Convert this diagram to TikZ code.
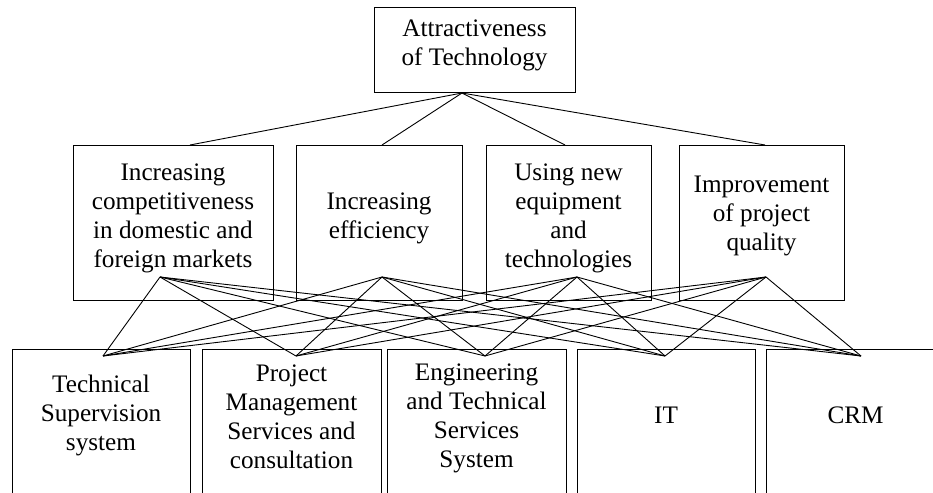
\documentclass[tikz,border=0pt]{standalone}
\usepackage{fontspec}
\setmainfont{Liberation Serif}
\usetikzlibrary{positioning}

\begin{document}
\begin{tikzpicture}[x=1pt, y=-1pt]
    \tikzstyle{gnode} = [draw=black, line width=1pt, rectangle, inner sep=0pt, align=center]
    \tikzstyle{tnode} = [inner sep=0pt, align=center, font=\fontsize{25.2}{29}\selectfont]
    \tikzstyle{abox} = [draw=black, line width=1pt, rectangle, inner sep=0pt, anchor=north, minimum height=170pt]
    \tikzstyle{wire} = [line width=0.9pt]
    \useasboundingbox (0,0) rectangle (933,492);
    \clip (0,0) rectangle (933,492);

    % goal
    \node[gnode, minimum width=201pt, minimum height=85pt] (goal) at (474.5,50.5) {};
    \node[tnode] (goalt) at (474.5,45) {Attractiveness\\of Technology};

    % criteria
    \node[gnode, minimum width=200pt, minimum height=155pt] (c1) at (173,222.5) {};
    \node[gnode, minimum width=166pt, minimum height=155pt] (c2) at (379,222.5) {};
    \node[gnode, minimum width=165pt, minimum height=155pt] (c3) at (568.5,222.5) {};
    \node[gnode, minimum width=165pt, minimum height=155pt] (c4) at (761.5,222.5) {};
    \node[tnode] (c1t) at (173,218) {Increasing\\competitiveness\\in domestic and\\foreign markets};
    \node[tnode] (c2t) at (379,218) {Increasing\\efficiency};
    \node[tnode] (c3t) at (568.5,218) {Using new\\equipment\\and\\technologies};
    \node[tnode] (c4t) at (761.5,216) {Improvement\\of project\\quality};

    % alternatives
    \node[abox, minimum width=178pt] (a1) at (101,349) {};
    \node[abox, minimum width=179pt] (a2) at (291.5,349) {};
    \node[abox, minimum width=179pt] (a3) at (476.5,349) {};
    \node[abox, minimum width=178pt] (a4) at (666,349) {};
    \node[abox, minimum width=179pt] (a5) at (855.5,349) {};
    \node[tnode] (a1t) at (101,415) {Technical\\Supervision\\system};
    \node[tnode] (a2t) at (291.5,417) {Project\\Management\\Services and\\consultation};
    \node[tnode] (a3t) at (476.5,418) {Engineering\\and Technical\\Services\\System};
    \node[tnode] (a4t) at (666,415) {IT};
    \node[tnode] (a5t) at (855.5,415) {CRM};

    % hubs
    \coordinate (g0) at (462,93);
    \coordinate (c1in) at (190,145);
    \coordinate (c2in) at (382,145);
    \coordinate (c3in) at (565,145);
    \coordinate (c4in) at (765,145);
    \coordinate (c1out) at (160,277);
    \coordinate (c2out) at (382,277);
    \coordinate (c3out) at (577,277);
    \coordinate (c4out) at (766,277);
    \coordinate (a1in) at (103,356);
    \coordinate (a2in) at (296,356);
    \coordinate (a3in) at (485,356);
    \coordinate (a4in) at (665,356);
    \coordinate (a5in) at (861,356);

    % goal to criteria
    \draw[wire] (g0) -- (c1in);
    \draw[wire] (g0) -- (c2in);
    \draw[wire] (g0) -- (c3in);
    \draw[wire] (g0) -- (c4in);

    % criteria to alternatives
    \draw[wire] (c1out) -- (a1in);
    \draw[wire] (c1out) -- (a2in);
    \draw[wire] (c1out) -- (a3in);
    \draw[wire] (c1out) -- (a4in);
    \draw[wire] (c1out) -- (a5in);

    \draw[wire] (c2out) -- (a1in);
    \draw[wire] (c2out) -- (a2in);
    \draw[wire] (c2out) -- (a3in);
    \draw[wire] (c2out) -- (a4in);
    \draw[wire] (c2out) -- (a5in);

    \draw[wire] (c3out) -- (a1in);
    \draw[wire] (c3out) -- (a2in);
    \draw[wire] (c3out) -- (a3in);
    \draw[wire] (c3out) -- (a4in);
    \draw[wire] (c3out) -- (a5in);

    \draw[wire] (c4out) -- (a1in);
    \draw[wire] (c4out) -- (a2in);
    \draw[wire] (c4out) -- (a3in);
    \draw[wire] (c4out) -- (a4in);
    \draw[wire] (c4out) -- (a5in);
\end{tikzpicture}
\end{document}
